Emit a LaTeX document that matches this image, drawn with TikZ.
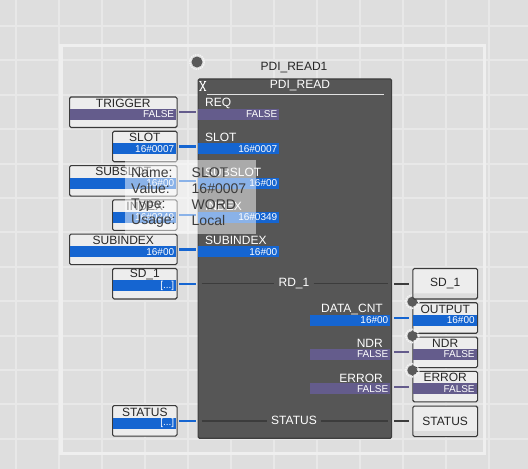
\documentclass[tikz,border=0pt]{standalone}
\usepackage{fontspec}
\setmainfont{Liberation Sans}
\definecolor{FBbg}{HTML}{DEDEDE}
\definecolor{FBgrid}{HTML}{E8E8E8}
\definecolor{FBframe}{HTML}{EFEFEF}
\definecolor{FBblock}{HTML}{565656}
\definecolor{FBblkedge}{HTML}{3E3E3E}
\definecolor{FBpurple}{HTML}{645C8C}
\definecolor{FBblue}{HTML}{1565D1}
\definecolor{FBbox}{HTML}{EDEDED}
\definecolor{FBband}{HTML}{DCDCDC}
\definecolor{FBedge}{HTML}{3A3A3A}
\definecolor{FBtext}{HTML}{262626}
\definecolor{FBwire}{HTML}{3C3C3C}
\definecolor{FBmark}{HTML}{5A5A5A}
\definecolor{FBring}{HTML}{F4F4F4}
\usetikzlibrary{calc, positioning}

\begin{document}
\begin{tikzpicture}[x=1pt, y=-1pt,
    varbox/.style={draw=FBedge, line width=1.1pt, fill=FBbox, rounded corners=1.5pt,
      minimum height=30.5pt, inner sep=0pt, anchor=north west},
    outbox/.style={varbox, text=FBtext, font=\fontsize{12}{12}\selectfont,
      path picture={\fill[FBband] ([yshift=5.5pt]path picture bounding box.south west)
        rectangle (path picture bounding box.south east);}},
    valbar/.style={minimum height=11pt, inner xsep=2pt, inner ysep=0pt, text=white,
      font=\fontsize{10}{10}\selectfont, align=right, anchor=north west},
    boxname/.style={text=FBtext, font=\fontsize{12}{12}\selectfont, inner sep=0pt},
    pinname/.style={text=white, font=\fontsize{12}{12}\selectfont, inner sep=0pt},
    wire/.style={line width=2.2pt},
    pinmark/.style={circle, minimum size=11pt, inner sep=0pt, fill=FBmark},
    markring/.style={draw=FBring, line width=1.5pt, dash pattern=on 1.4pt off 0.9pt},
    tiptext/.style={text=FBtext!90, font=\fontsize{14}{14}\selectfont, inner sep=0pt, anchor=west}
  ]
  \useasboundingbox (0,0) rectangle (528,469);
  % background grid and group frame
  \fill[FBbg] (0,0) rectangle (528,469);
  \foreach \i in {0,...,11}
    \draw[FBgrid, line width=2pt] (15.5+43*\i,0) -- (15.5+43*\i,469);
  \foreach \j in {0,...,12}
    \draw[FBgrid, line width=2pt] (0,26+34.4*\j) -- (528,26+34.4*\j);
  \draw[FBframe, line width=3.5pt] (61,45.5) rectangle (484.5,453.5);

  % function block
  \node[pinmark] (fbmark) at (197,62) {};
  \draw[markring] (fbmark) circle (7.3);
  \node[text=FBtext, font=\fontsize{12}{12}\selectfont, inner sep=0pt] (fbname) at (294,67.5) {PDI\_READ1};
  \node[draw=FBblkedge, line width=1.2pt, fill=FBblock, rounded corners=1.5pt, inner sep=0pt,
    minimum width=193.5pt, minimum height=359.4pt, anchor=north west] (fb) at (197.5,78.3) {};
  \node[pinname] (fbtype) at (300,86) {PDI\_READ};
  \draw[FBbox!90!gray, line width=1.4pt] (207,94.3) -- (384,94.3);
  \draw[white, line width=0.9pt] (200.5,82) -- (205,90) (205,82) -- (200.5,90)
    (199.3,81.5) -- (201.3,81.5) (204.2,81.5) -- (206.2,81.5)
    (199.3,90.5) -- (201.3,90.5) (204.2,90.5) -- (206.2,90.5);

  % inputs of the block
  \foreach \k/\nm/\val/\col in {0/REQ/FALSE/FBpurple, 1/SLOT/16\#0007/FBblue,
      2/SUBSLOT/16\#00/FBblue, 3/INDEX/16\#0349/FBblue, 4/SUBINDEX/16\#00/FBblue} {
    \node[pinname, anchor=west] (pin\k) at (205,103.5+34.3*\k) {\nm};
    \node[valbar, fill=\col, text width=77.5pt] (pbar\k) at (197.5,108.7+34.3*\k) {\val};
  }
  % outputs of the block
  \foreach \k/\nm/\val/\col in {6/DATA\_CNT/16\#00/FBblue, 7/NDR/FALSE/FBpurple, 8/ERROR/FALSE/FBpurple} {
    \node[pinname, anchor=east] (pout\k) at (383,103.5+34.3*\k) {\nm};
    \node[valbar, fill=\col, text width=76pt, anchor=north east] (pbar\k) at (390.5,108.7+34.3*\k) {\val};
  }
  % in-out pins
  \node[pinname, inner xsep=4pt] (rd) at (294,283.5) {RD\_1};
  \coordinate (rdl) at (201.5,283.5);
  \coordinate (rdr) at (387.5,283.5);
  \draw[FBwire, line width=1.5pt] (rdl) -- (rd.west) (rd.east) -- (rdr);
  \node[pinname, inner xsep=4pt] (st) at (294,420.8) {STATUS};
  \coordinate (stl) at (201.5,420.8);
  \coordinate (str) at (387.5,420.8);
  \draw[FBwire, line width=1.5pt] (stl) -- (st.west) (st.east) -- (str);

  % variables on the left
  \foreach \k/\x/\w/\tw/\nm/\val/\col in {0/69/107.5/102.4/TRIGGER/FALSE/FBpurple,
      1/112/64.5/59.4/SLOT/16\#0007/FBblue, 2/69/107.5/102.4/SUBSLOT/16\#00/FBblue,
      3/112/64.5/59.4/INDEX/16\#0349/FBblue, 4/69/107.5/102.4/SUBINDEX/16\#00/FBblue,
      5/112/64.5/59.4/SD\_1/{[...]}/FBblue, 9/112/64.5/59.4/STATUS/{[...]}/FBblue} {
    \node[varbox, minimum width=\w pt] (lbox\k) at (\x,96.4+34.3*\k) {};
    \node[boxname] (lname\k) at ([yshift=-6.8pt]lbox\k.north) {\nm};
    \node[valbar, fill=\col, text width=\tw pt] (lbar\k) at ([xshift=0.55pt, yshift=-12.3pt]lbox\k.north west) {\val};
    \coordinate (fbl\k) at (fb.west |- lbox\k.east);
    \draw[wire, \col] ([xshift=1.5pt]lbox\k.east) -- ([xshift=-1.5pt]fbl\k);
  }

  % variables on the right
  \foreach \k/\nm/\val/\col in {6/OUTPUT/16\#00/FBblue, 7/NDR/FALSE/FBpurple, 8/ERROR/FALSE/FBpurple} {
    \node[varbox, minimum width=64.7pt] (rbox\k) at (412.3,96.4+34.3*\k) {};
    \node[boxname] (rname\k) at ([yshift=-6.8pt]rbox\k.north) {\nm};
    \node[valbar, fill=\col, text width=59.6pt] (rbar\k) at ([xshift=0.55pt, yshift=-12.3pt]rbox\k.north west) {\val};
    \coordinate (fbr\k) at (fb.east |- rbox\k.west);
    \draw[wire, \col] ([xshift=2pt]fbr\k) -- ([xshift=-3pt]rbox\k.west);
    \node[pinmark, minimum size=10pt] (rmark\k) at ([yshift=0.5pt]rbox\k.north west) {};
    \draw[markring] (rmark\k) circle (6.6);
  }
  \node[outbox, minimum width=64.7pt] (rsd) at (412.3,267.9) {SD\_1};
  \node[outbox, minimum width=64.7pt] (rst) at (412.3,405.5) {STATUS};
  \coordinate (fbr5) at (fb.east |- rsd.west);
  \coordinate (fbr9) at (fb.east |- rst.west);
  \draw[wire, FBwire] ([xshift=2pt]fbr5) -- ([xshift=-3pt]rsd.west);
  \draw[wire, FBwire] ([xshift=2pt]fbr9) -- ([xshift=-3pt]rst.west);

  % tooltip
  \node[fill=white, fill opacity=0.5, inner sep=0pt, anchor=north west,
    minimum width=130.7pt, minimum height=74pt] (tip) at (125,159.3) {};
  \foreach \i/\key/\v in {0/Name:/SLOT, 1/Value:/16\#0007, 2/Type:/WORD, 3/Usage:/Local} {
    \node[tiptext] (tipk\i) at (131,173+15.9*\i) {\key};
    \node[tiptext] (tipv\i) at (191.5,173+15.9*\i) {\v};
  }
\end{tikzpicture}
\end{document}
